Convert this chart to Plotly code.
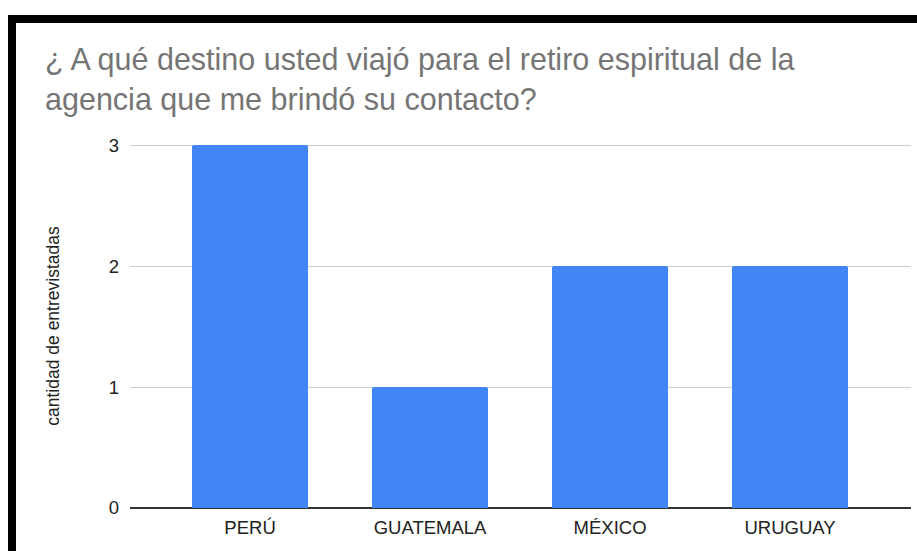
import plotly.graph_objects as go

categories = ["PERÚ", "GUATEMALA", "MÉXICO", "URUGUAY"]
values = [3, 1, 2, 2]
title_lines = ["¿ A qué destino usted viajó para el retiro espiritual de la",
               "agencia que me brindó su contacto?"]
y_title = "cantidad de entrevistadas"
y_ticks = [0, 1, 2, 3]

W, H = 917, 551
ML, MR, MT, MB = 130, 6, 144, 43
PW = W - ML - MR
PH = H - MT - MB

def px_x(p):
    return (p - ML) / PW

def px_y(p):
    return (H - MB - p) / PH

TITLE_SIZE = 30.5
# vertical centre of the two-line title block (pixels from top)
TITLE_CENTER = 80

fig = go.Figure()
fig.add_trace(go.Bar(
    x=categories, y=values,
    marker=dict(color="#4285F4", cornerradius=3, line=dict(width=0)),
    width=0.646,
))

fig.update_layout(
    width=W, height=H,
    margin=dict(l=ML, r=MR, t=MT, b=MB, autoexpand=False),
    paper_bgcolor="white", plot_bgcolor="white",
    font=dict(family="Liberation Sans, Arial, sans-serif", color="#222222"),
    showlegend=False,
    bargap=0,
    annotations=[dict(
        text="<br>".join(title_lines), xref="paper", yref="paper",
        x=px_x(44), xanchor="left", align="left",
        y=px_y(TITLE_CENTER), yanchor="middle",
        showarrow=False, borderpad=0,
        font=dict(size=TITLE_SIZE, color="#757575"),
    )],
    xaxis=dict(range=[-0.667, 3.672], showgrid=False, showline=False,
               ticks="", tickfont=dict(size=18.5, color="#222222"),
               ticklabelstandoff=6, fixedrange=True),
    yaxis=dict(range=[0, 3.01], tickvals=y_ticks, showgrid=True, gridcolor="#cccccc",
               gridwidth=1, zeroline=True, zerolinecolor="#333333", zerolinewidth=1.5,
               showline=False, ticks="", tickfont=dict(size=18.5, color="#222222"),
               ticklabelstandoff=10, fixedrange=True,
               title=dict(text=y_title, font=dict(size=17.5, color="#222222"), standoff=44),
               automargin=False),
    shapes=[
        dict(type="rect", xref="paper", yref="paper",
             x0=px_x(8), x1=px_x(16), y0=px_y(560), y1=px_y(15),
             fillcolor="black", line=dict(width=0), layer="above"),
        dict(type="rect", xref="paper", yref="paper",
             x0=px_x(8), x1=px_x(925), y0=px_y(23), y1=px_y(15),
             fillcolor="black", line=dict(width=0), layer="above"),
    ],
)

fig.write_html("out.html", config={"displayModeBar": False},
               post_script="document.body.style.margin='0';")
